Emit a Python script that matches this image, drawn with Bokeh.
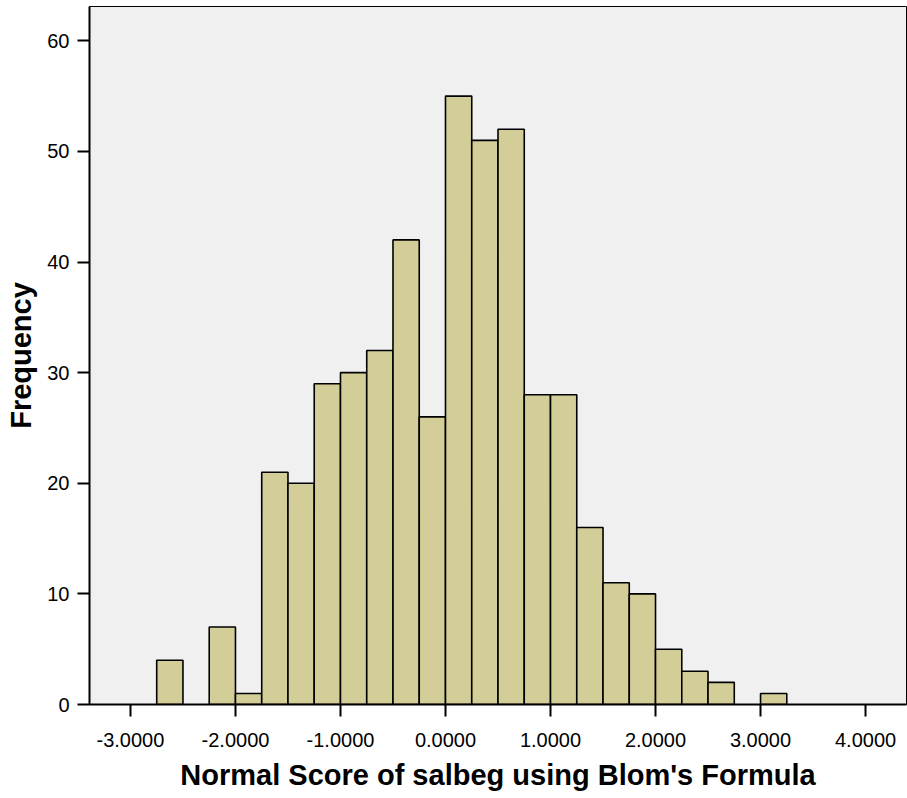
import numpy as np
from bokeh.plotting import figure
from bokeh.models import ColumnDataSource, FixedTicker, NumeralTickFormatter, Range1d
from bokeh.embed import file_html
from bokeh.resources import INLINE

# Histogram data: bins of width 0.25 starting at -2.75
bin_start = -2.75
bin_width = 0.25
counts = [4, 0, 7, 1, 21, 20, 29, 30, 32, 42, 26, 55, 51, 52, 28, 28, 16, 11, 10, 5, 3, 2, 0, 1]
x_ticks = [-3, -2, -1, 0, 1, 2, 3, 4]
y_ticks = [0, 10, 20, 30, 40, 50, 60]
x_label = "Normal Score of salbeg using Blom's Formula"
y_label = "Frequency"

lefts = bin_start + bin_width * np.arange(len(counts))
rights = lefts + bin_width
cnt = np.array(counts)
mask = cnt > 0
src = ColumnDataSource(dict(left=lefts[mask], right=rights[mask], top=cnt[mask], bottom=np.zeros(mask.sum())))

p = figure(width=907, height=798, output_backend="svg", toolbar_location=None,
           x_range=Range1d(-3.39, 4.39), y_range=Range1d(0, 63.1),
           min_border_left=89, min_border_right=1, min_border_top=6, min_border_bottom=94)

p.quad(left="left", right="right", top="top", bottom="bottom", source=src,
       fill_color="#D3CE97", line_color="black", line_width=1.6)

p.background_fill_color = "#F0F0F0"
p.border_fill_color = "white"
p.outline_line_color = "black"
p.outline_line_width = 1
p.xgrid.visible = False
p.ygrid.visible = False

font = "Liberation Sans"
for ax in (p.xaxis[0], p.yaxis[0]):
    ax.axis_line_color = "black"
    ax.axis_line_width = 2
    ax.major_tick_line_color = "black"
    ax.major_tick_line_width = 2
    ax.major_tick_out = 12
    ax.major_tick_in = 0
    ax.minor_tick_line_color = None
    ax.major_label_text_font = font
    ax.major_label_text_font_size = "20px"
    ax.major_label_text_color = "black"
    ax.axis_label_text_font = font
    ax.axis_label_text_font_size = "29px"
    ax.axis_label_text_font_style = "bold"
    ax.axis_label_text_color = "black"

p.xaxis[0].ticker = FixedTicker(ticks=x_ticks)
p.xaxis[0].formatter = NumeralTickFormatter(format="0.0000")
p.xaxis[0].major_label_standoff = 16
p.xaxis[0].axis_label = x_label
p.xaxis[0].axis_label_standoff = 9

p.yaxis[0].ticker = FixedTicker(ticks=y_ticks)
p.yaxis[0].major_label_standoff = 8
p.yaxis[0].axis_label = y_label
p.yaxis[0].axis_label_standoff = 7

open("out.html", "w").write(file_html(p, INLINE))
